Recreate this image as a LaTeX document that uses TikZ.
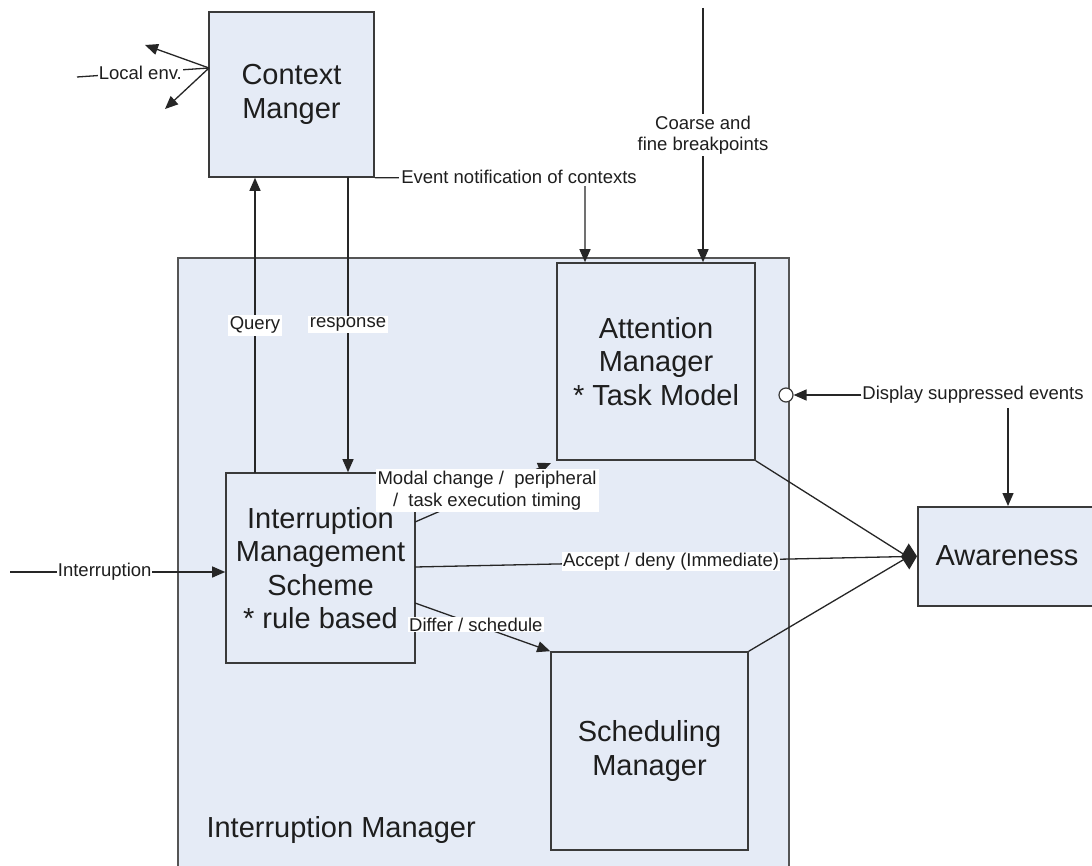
\documentclass[tikz,border=0pt]{standalone}
\usepackage{fontspec}
\setmainfont{Liberation Sans}
\usetikzlibrary{arrows.meta,shapes.geometric,calc}
\definecolor{boxfill}{HTML}{E5EBF6}
\definecolor{boxline}{HTML}{3A3A3A}
\definecolor{bigline}{HTML}{555555}
\definecolor{txt}{HTML}{1E1E1E}
\begin{document}
\begin{tikzpicture}[x=1pt,y=-1pt,
  box/.style={draw=boxline,fill=boxfill,line width=1.6pt,inner sep=0pt,align=center,
    font=\fontsize{29}{33.5}\selectfont,text=txt},
  bigtxt/.style={font=\fontsize{29}{33.5}\selectfont,text=txt},
  lbl/.style={font=\fontsize{18.5}{21.5}\selectfont,text=txt,fill=white,inner sep=2pt,align=center},
  conn/.style={line width=1.3pt,draw=black!85},
  arr/.style={-{Triangle[length=13pt,width=11pt]}}]
\clip (0,0) rectangle (1092,866);
\fill[white] (0,0) rectangle (1092,866);
% big container
\node[box,draw=bigline,anchor=north west,minimum width=611pt,minimum height=620pt] (im) at (177,257) {};
\node[bigtxt,anchor=west] (imt) at (203,830) {Interruption Manager};
% boxes
\node[box,minimum width=165pt,minimum height=165pt] (cm) at (291.5,94.5) {Context\\Manger};
\node[box,minimum width=198pt,minimum height=197pt] (am) at (656,361.5) {Attention\\Manager\\* Task Model};
\node[box,minimum width=189pt,minimum height=190pt] (ims) at (320.5,568) {Interruption\\Management\\Scheme\\* rule based};
\node[box,minimum width=197pt,minimum height=198pt] (sm) at (649.5,751) {Scheduling\\Manager};
\node[box,anchor=north west,minimum width=190pt,minimum height=99pt] (aw) at (917,506) {};
\node[bigtxt,anchor=west] (awt) at (932,556) {Awareness};
% circle port
\node[circle,draw=boxline,fill=white,line width=1.2pt,minimum size=14pt,inner sep=0pt] (circ) at (786,395) {};
% coordinates
\coordinate (leL) at (77,77);
\coordinate (leR) at (209,68);
\coordinate (leA) at (145,45);
\coordinate (leB) at (165,109);
\coordinate (evb) at (585,177);
\coordinate (cfT) at (703,8);
\coordinate (inL) at (10,572);
\coordinate (dsd) at (1008,408);
\coordinate (dia) at (908,557);
\coordinate (qB) at (255,473);
\coordinate (rT) at (348,177);
\coordinate (mS) at (415,522);
\coordinate (mT) at (551,463);
\coordinate (dS) at (415,603);
\coordinate (aS) at (415,567);
% Local env.
\draw[conn] (leL) -- node[lbl,pos=0.48,inner sep=1pt]{Local env.} (leR);
\draw[conn,arr] (leR) -- (leA);
\draw[conn,arr] (leR) -- (leB);
% Query / response
\draw[conn,arr] (qB) -- node[lbl]{Query} (qB |- cm.south);
\draw[conn,arr] (rT) -- node[lbl]{response} (rT |- ims.north);
% Event notification
\draw[conn,arr] (cm.south east) -- (evb) -- (evb |- am.north);
\node[lbl] (evt) at (519,177) {Event notification of contexts};
% Coarse and fine
\draw[conn,arr] (cfT) -- node[lbl,pos=0.5]{Coarse and\\fine breakpoints} (cfT |- am.north);
% Interruption
\draw[conn,arr] (inL) -- node[lbl,pos=0.44,inner sep=1pt]{Interruption} (inL -| ims.west);
% Accept / deny
\draw[conn,-{Diamond[length=16pt,width=26pt]}] (aS) -- node[lbl,pos=0.51,inner sep=1pt]{Accept / deny (Immediate)} (aw.west);
% Attention / Scheduling to Awareness
\draw[conn] (am.south east) -- (dia);
\draw[conn] (sm.north east) -- (dia);
% Modal change
\draw[conn,arr] (mS) -- node[lbl,pos=0.53]{Modal change /\ \ peripheral\\/\ \ task execution timing} (mT);
% Differ / schedule
\draw[conn,arr] (dS) -- node[lbl,pos=0.45,inner sep=1pt]{Differ / schedule} (sm.north west);
% Display suppressed events
\node[font=\fontsize{18.5}{21.5}\selectfont,text=txt,inner sep=1pt] (dse) at (973,395) {Display suppressed events};
\draw[conn,arr] (dse.west) -- (circ.east);
\draw[conn,arr] (dsd) -- (dsd |- aw.north);
\end{tikzpicture}
\end{document}
